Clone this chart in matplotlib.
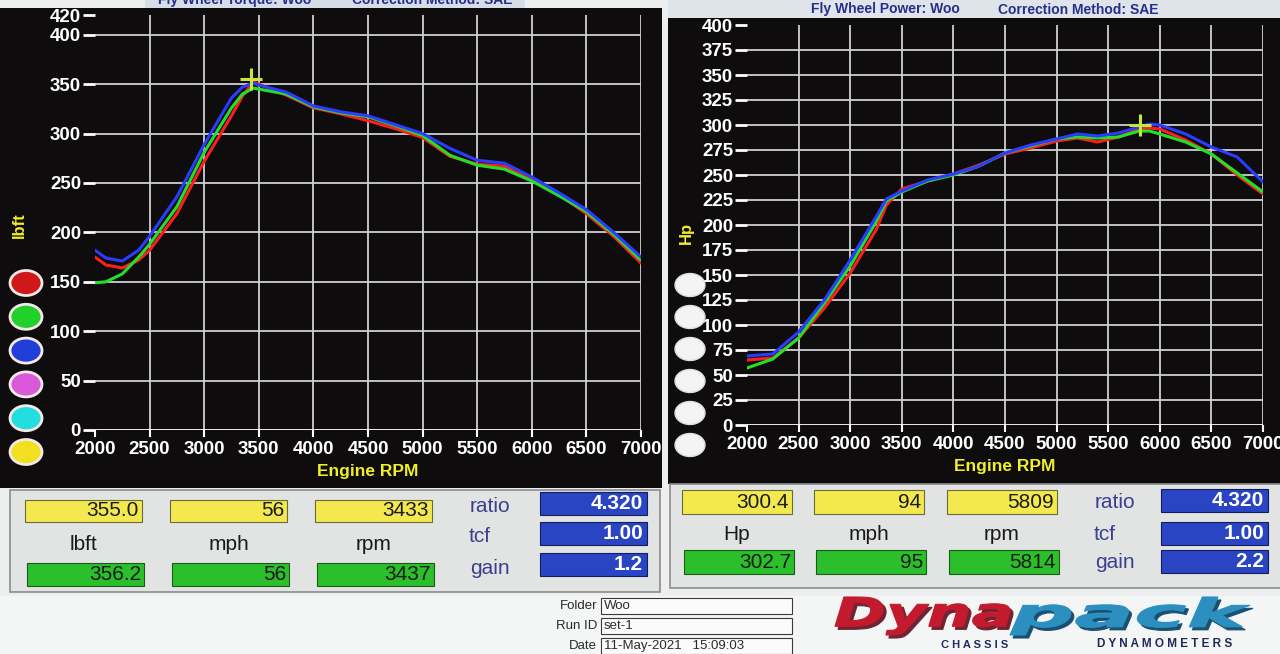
import numpy as np
import matplotlib.pyplot as plt
from matplotlib.patches import Rectangle, Ellipse, PathPatch
from matplotlib.textpath import TextPath
from matplotlib.font_manager import FontProperties
from matplotlib.transforms import Affine2D

# ---- data ----
rpm_tq = [2000, 2100, 2250, 2400, 2500, 2750, 3000, 3250, 3350, 3450, 3500, 3750,
          4000, 4250, 4500, 4750, 5000, 5250, 5500, 5750, 6000, 6250, 6500, 6750, 7000]
tq_red = [175, 167, 164, 172, 182, 219, 272, 318, 338, 352, 350, 339,
          326, 320, 313, 305, 296, 277, 269, 267, 254, 238, 219, 196, 169]
tq_green = [149, 150, 158, 175, 188, 226, 281, 326, 340, 346, 345, 340,
            327, 321, 317, 308, 298, 278, 268, 264, 252, 237, 221, 198, 172]
tq_blue = [182, 174, 171, 182, 196, 236, 289, 336, 347, 351, 349, 342,
           328, 322, 318, 309, 300, 285, 273, 270, 256, 240, 223, 200, 175]

rpm_hp = [2000, 2250, 2500, 2750, 3000, 3250, 3350, 3500, 3750, 4000, 4250, 4500,
          4750, 5000, 5200, 5400, 5600, 5800, 5900, 6000, 6250, 6500, 6750, 7000]
hp_red = [65, 67, 87, 117, 152, 195, 220, 236, 244, 251, 260, 271,
          277, 284, 287, 283, 288, 296, 297, 296, 285, 271, 250, 231]
hp_green = [57, 66, 87, 122, 159, 203, 224, 233, 244, 250, 259, 272,
            279, 286, 288, 287, 288, 294, 294, 291, 283, 271, 252, 233]
hp_blue = [69, 71, 93, 125, 165, 208, 226, 234, 245, 251, 259, 272,
           280, 286, 291, 289, 292, 298, 301, 300, 291, 278, 268, 243]

rpm_ticks = [2000, 2500, 3000, 3500, 4000, 4500, 5000, 5500, 6000, 6500, 7000]
tq_ticks = [0, 50, 100, 150, 200, 250, 300, 350, 400, 420]
hp_ticks = [0, 25, 50, 75, 100, 125, 150, 175, 200, 225, 250, 275, 300, 325, 350, 375, 400]

tq_cursor = (3433, 355.0)
hp_cursor = (5809, 300.4)

tq_top = ['355.0', '56', '3433']
tq_bottom = ['356.2', '56', '3437']
tq_units = ['lbft', 'mph', 'rpm']
tq_params = ['4.320', '1.00', '1.2']
hp_top = ['300.4', '94', '5809']
hp_bottom = ['302.7', '95', '5814']
hp_units = ['Hp', 'mph', 'rpm']
hp_params = ['4.320', '1.00', '2.2']
param_names = ['ratio', 'tcf', 'gain']

run_info = [('Folder', 'Woo'), ('Run ID', 'set-1'), ('Date', '11-May-2021   15:09:03')]

W, H = 1280, 654
FONT = 'Liberation Sans'
BG = '#0e0c0d'
GRID = '#cfcfcf'
LINE_COLORS = ['#ff1e1e', '#22e02a', '#2a3cff']


def fx(x):
    return x / W


def fy(y):
    return 1 - y / H


def frect(fig, x0, y0, x1, y1, zorder=-5, **kw):
    fig.add_artist(Rectangle((fx(x0), fy(y1)), (x1 - x0) / W, (y1 - y0) / H,
                             transform=fig.transFigure, zorder=zorder, **kw))


def ftext(fig, x, y, s, **kw):
    kw.setdefault('family', FONT)
    fig.text(fx(x), fy(y), s, **kw)


def stretched_word(fig, word, x0, x1, y0, y1, color):
    # text drawn as a path, stretched to fill the box (x0..x1, y0..y1) in pixels
    prop = FontProperties(family='DejaVu Sans', weight='bold', style='italic')
    path = TextPath((0, 0), word, size=1, prop=prop)
    ext = path.get_extents()
    sx = (x1 - x0) / ext.width / W
    sy = (y1 - y0) / ext.height / H
    tr = (Affine2D().translate(-ext.x0, -ext.y0).scale(sx, sy)
          .translate(fx(x0), fy(y1)) + fig.transFigure)
    fig.add_artist(PathPatch(path, transform=tr, facecolor=color,
                             edgecolor=color, lw=0.8, zorder=3))


def dyno_axes(fig, rect, ymax, yticks, hlines, xs, series, cursor):
    ax = fig.add_axes(rect)
    ax.set_facecolor(BG)
    for c, ys in zip(LINE_COLORS, series):
        ax.plot(xs, ys, color=c, lw=2.2, solid_capstyle='round',
                solid_joinstyle='round', zorder=3)
    ax.plot([cursor[0]], [cursor[1]], marker='+', ms=16, mew=2.2,
            color='#c6e83a', zorder=4)
    for v in hlines:
        ax.axhline(v, color=GRID, lw=1.3, zorder=1)
    for v in rpm_ticks[1:]:
        ax.axvline(v, color=GRID, lw=1.3, zorder=1)
    ax.axhline(0, color='white', lw=2, zorder=2)
    ax.set_xlim(2000, 7000)
    ax.set_ylim(0, ymax)
    ax.set_xticks(rpm_ticks)
    ax.set_yticks(yticks)
    for s in ax.spines.values():
        s.set_visible(False)
    ax.tick_params(axis='y', colors='white', length=9, width=2, pad=1, labelsize=13.5)
    ax.tick_params(axis='x', colors='white', length=5, width=1.5, pad=3, labelsize=13.5)
    for lbl in ax.get_xticklabels() + ax.get_yticklabels():
        lbl.set_fontweight('bold')
        lbl.set_family(FONT)
    ax.set_xlabel('Engine RPM', color='#f2ee2a', fontsize=12.5, fontweight='bold',
                  family=FONT, labelpad=4)
    return ax


def info_panel(fig, lay, top, bottom, units, params):
    bw = lay['box_w']
    for i in range(3):
        x0 = lay['boxes_x'][i]
        ya, yb = lay['yellow']
        frect(fig, x0, ya, x0 + bw, yb, zorder=2, facecolor='#f3e94f',
              edgecolor='#6a6a3a', lw=0.8)
        ftext(fig, x0 + bw - 3, (ya + yb) / 2, top[i], fontsize=15, ha='right',
              va='center', color='#1a1a1a')
        ga, gb = lay['green']
        frect(fig, x0 + 2, ga, x0 + bw + 2, gb, zorder=2,
              facecolor='#2cbf2c', edgecolor='#1a5a1a', lw=0.8)
        ftext(fig, x0 + bw - 1, (ga + gb) / 2, bottom[i], fontsize=15, ha='right',
              va='center', color='#1a1a1a')
        ftext(fig, x0 + bw / 2, lay['units_y'], units[i], fontsize=15, ha='center',
              va='center', color='#1a1a1a')
    px = lay['pbox_x']
    for i in range(3):
        y0 = lay['pbox_y'][i]
        frect(fig, px, y0, px + 107, y0 + 23, zorder=2, facecolor='#2a45c4',
              edgecolor='#141c5a', lw=0.8)
        ftext(fig, px + 103, y0 + 11.5, params[i], fontsize=15, ha='right',
              va='center', color='white', fontweight='bold')
        ftext(fig, lay['lab_x'][i], lay['lab_y'][i], param_names[i], fontsize=15,
              ha='center', va='center', color='#3b3f90')


fig = plt.figure(figsize=(12.8, 6.54), dpi=100)
fig.patch.set_facecolor('#eceef0')

# screen panels
frect(fig, 0, 8, 662, 488, facecolor=BG, edgecolor='none')
frect(fig, 668, 18, 1280, 484, facecolor=BG, edgecolor='none')
frect(fig, 145, -2, 525, 8, facecolor='#d6dde6', edgecolor='none')
frect(fig, 668, -2, 1280, 18, facecolor='#dfe4ea', edgecolor='none')
ftext(fig, 235, 0, 'Fly Wheel Torque: Woo', fontsize=10, fontweight='bold',
      color='#26308a', ha='center', va='center')
ftext(fig, 432, 0, 'Correction Method: SAE', fontsize=10, fontweight='bold',
      color='#26308a', ha='center', va='center')
ftext(fig, 885, 9, 'Fly Wheel Power: Woo', fontsize=10, fontweight='bold',
      color='#26308a', ha='center', va='center')
ftext(fig, 1078, 10, 'Correction Method: SAE', fontsize=10, fontweight='bold',
      color='#26308a', ha='center', va='center')

ax1 = dyno_axes(fig, [fx(95), fy(430), 546 / W, 415 / H], 420, tq_ticks,
                tq_ticks[1:-1], rpm_tq, [tq_red, tq_green, tq_blue], tq_cursor)
ax2 = dyno_axes(fig, [fx(747), fy(425), 516 / W, 400 / H], 400, hp_ticks,
                hp_ticks[1:-1], rpm_hp, [hp_red, hp_green, hp_blue], hp_cursor)

ftext(fig, 19, 225, 'lbft', fontsize=12, fontweight='bold', color='#f2ee2a',
      rotation=90, ha='center', va='center')
ftext(fig, 686, 233, 'Hp', fontsize=12, fontweight='bold', color='#f2ee2a',
      rotation=90, ha='center', va='center')

# run selector buttons
left_btn = ['#d01818', '#22d02a', '#1f3fd8', '#d85ad8', '#22dede', '#f0e020']
for i, c in enumerate(left_btn):
    fig.add_artist(Ellipse((fx(26), fy(283 + i * 33.8)), 32 / W, 25 / H,
                           transform=fig.transFigure, facecolor=c,
                           edgecolor='#f4e8e8', lw=2, zorder=3))
    fig.add_artist(Ellipse((fx(690), fy(285 + i * 32)), 30 / W, 23 / H,
                           transform=fig.transFigure, facecolor='#f4f4f4',
                           edgecolor='#dddddd', lw=1, zorder=3))

# lower info panels
frect(fig, 10, 490, 660, 592, facecolor='#e2e4e3', edgecolor='#8c8c8c', lw=1.2)
frect(fig, 670, 484, 1285, 588, facecolor='#e2e4e3', edgecolor='#8c8c8c', lw=1.2)
frect(fig, 0, 596, 1280, 660, facecolor='#f4f5f5', edgecolor='none')
left_lay = dict(boxes_x=[25, 170, 315], box_w=117, yellow=(500, 522), green=(563, 586),
                units_y=545, pbox_x=540, pbox_y=[492, 522, 553],
                lab_x=[490, 480, 490], lab_y=[507, 537, 568])
right_lay = dict(boxes_x=[682, 814, 947], box_w=110, yellow=(490, 514), green=(550, 574),
                 units_y=534, pbox_x=1161, pbox_y=[489, 522, 550],
                 lab_x=[1115, 1105, 1115], lab_y=[502, 535, 563])
info_panel(fig, left_lay, tq_top, tq_bottom, tq_units, tq_params)
info_panel(fig, right_lay, hp_top, hp_bottom, hp_units, hp_params)

# run info fields
for i, (lab, val) in enumerate(run_info):
    y = 606 + i * 20
    ftext(fig, 597, y, lab, fontsize=9.5, ha='right', va='center', color='#2a2a2a')
    frect(fig, 601, y - 8, 792, y + 8, zorder=2, facecolor='#fbfbfb',
          edgecolor='#3a3a3a', lw=0.8)
    ftext(fig, 604, y, val, fontsize=9.5, ha='left', va='center', color='#2a2a2a')

# logo
stretched_word(fig, 'Dyna', 838, 1013, 600, 638, '#6e2433')
stretched_word(fig, 'pack', 1013, 1253, 600, 638, '#1b4f72')
stretched_word(fig, 'Dyna', 835, 1010, 597, 635, '#c41a2e')
stretched_word(fig, 'pack', 1010, 1250, 597, 635, '#2b8fc0')
ftext(fig, 975, 645, 'C H A S S I S', fontsize=8, fontweight='bold',
      color='#1f2a5a', ha='center', va='center')
ftext(fig, 1165, 644, 'D Y N A M O M E T E R S', fontsize=8.5, fontweight='bold',
      color='#1f2a5a', ha='center', va='center')

fig.savefig('out.png', dpi=100, facecolor=fig.get_facecolor())
